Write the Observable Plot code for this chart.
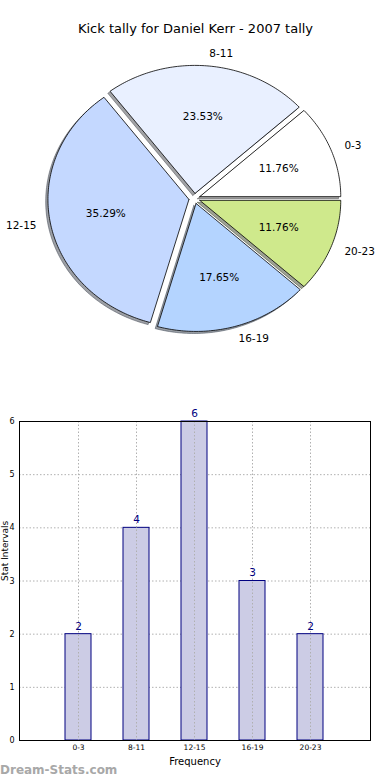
<!DOCTYPE html>
<html>
<head>
<meta charset="utf-8">
<script src="https://cdn.jsdelivr.net/npm/d3@7"></script>
<script src="https://cdn.jsdelivr.net/npm/@observablehq/plot@0.6"></script>
<style>
  html, body { margin: 0; padding: 0; background: #fff; }
  body { width: 390px; height: 780px; position: relative; overflow: hidden; font-family: "DejaVu Sans", sans-serif; }
  #pie, #bar { position: absolute; left: 0; }
  #pie { top: 0; }
  #bar { top: 390px; }
  svg { display: block; }
  #wm { position: absolute; left: 0; top: 763px; font-size: 12px; color: #a8a8a8; font-weight: bold; font-family: "DejaVu Sans", sans-serif; }
</style>
</head>
<body>
<div id="pie"></div>
<div id="bar"></div>
<div id="wm">Dream-Stats.com</div>
<script>
const titleText = "Kick tally for Daniel Kerr - 2007 tally";
const categories = ["0-3", "8-11", "12-15", "16-19", "20-23"];
const counts = [2, 4, 6, 3, 2];
const sliceColors = ["#ffffff", "#e9f0ff", "#c4d8ff", "#b4d4ff", "#cfe98c"];
const yTicks = [0, 1, 2, 3, 4, 5, 6];
const xLabel = "Frequency";
const yLabel = "Stat Intervals";

const explode = 0.04;
const total = d3.sum(counts);

let acc = 0;
const slices = categories.map((c, i) => {
  const a0 = acc / total * 2 * Math.PI;
  acc += counts[i];
  const a1 = acc / total * 2 * Math.PI;
  const mid = (a0 + a1) / 2;
  const cx = explode * Math.cos(mid), cy = explode * Math.sin(mid);
  const pts = [{x: cx, y: cy}];
  const n = Math.max(2, Math.ceil((a1 - a0) / (Math.PI / 180)));
  for (let k = 0; k <= n; k++) {
    const a = a0 + (a1 - a0) * k / n;
    pts.push({x: cx + Math.cos(a), y: cy + Math.sin(a)});
  }
  pts.push({x: cx, y: cy});
  return {cat: c, count: counts[i], color: sliceColors[i], mid, cx, cy, pts,
    pct: (100 * counts[i] / total).toFixed(2) + "%"};
});

function darken(col) {
  const c = d3.rgb(col);
  return d3.rgb(c.r * 0.3, c.g * 0.3, c.b * 0.3).formatHex();
}

const shadowOff = 0.016;
const pieMarks = [];
slices.forEach(s => {
  pieMarks.push(Plot.line(s.pts.map(p => ({x: p.x - shadowOff, y: p.y - shadowOff})), {
    x: "x", y: "y", fill: darken(s.color), fillOpacity: 0.5,
    stroke: darken(s.color), strokeOpacity: 0.5, strokeWidth: 1
  }));
});
slices.forEach(s => {
  pieMarks.push(Plot.line(s.pts, {x: "x", y: "y", fill: s.color, stroke: "#000", strokeWidth: 0.8}));
});
const labelPts = slices.map(s => ({
  x: s.cx + 1.1 * Math.cos(s.mid), y: s.cy + 1.1 * Math.sin(s.mid), text: s.cat
}));
const pctPts = slices.map(s => ({
  x: s.cx + 0.6 * Math.cos(s.mid), y: s.cy + 0.6 * Math.sin(s.mid), text: s.pct
}));
pieMarks.push(Plot.text(labelPts.filter(d => d.x >= 0), {x: "x", y: "y", text: "text", textAnchor: "start", fontSize: 10.5, fill: "#000"}));
pieMarks.push(Plot.text(labelPts.filter(d => d.x < 0), {x: "x", y: "y", text: "text", textAnchor: "end", fontSize: 10.5, fill: "#000"}));
pieMarks.push(Plot.text(pctPts, {x: "x", y: "y", text: "text", fontSize: 10.5, fill: "#000"}));
pieMarks.push(Plot.text([titleText], {frameAnchor: "top", dy: 23, fontSize: 13, fill: "#000"}));

const cxPx = 194, cyPx = 198, rx = 141, ry = 128, pieH = 390;
const pie = Plot.plot({
  width: 390, height: pieH,
  margin: 0,
  style: {fontFamily: "DejaVu Sans, sans-serif", background: "transparent"},
  x: {domain: [-cxPx / rx, (390 - cxPx) / rx], axis: null},
  y: {domain: [-(pieH - cyPx) / ry, cyPx / ry], axis: null},
  marks: pieMarks
});
document.getElementById("pie").appendChild(pie);

const barData = categories.map((c, i) => ({cat: c, count: counts[i]}));
const bar = Plot.plot({
  width: 390, height: 390,
  marginTop: 31, marginBottom: 40, marginLeft: 19, marginRight: 20,
  style: {fontFamily: "DejaVu Sans, sans-serif", background: "transparent"},
  x: {domain: categories, paddingInner: 0.55, paddingOuter: 0.775, axis: null},
  y: {domain: [0, 6], axis: null},
  marks: [
    Plot.gridY(yTicks.slice(1, -1), {stroke: "#b0b0b0", strokeOpacity: 1, strokeDasharray: "1.5,2"}),
    Plot.barY(barData, {x: "cat", y: "count", fill: "#ccccE5", stroke: "#000080", strokeWidth: 1, inset: 0}),
    Plot.gridX(categories, {stroke: "#b0b0b0", strokeOpacity: 1, strokeDasharray: "1.5,2"}),
    Plot.frame({stroke: "#000", strokeWidth: 1}),
    Plot.axisY(yTicks, {tickSize: 0, tickPadding: 5, fontSize: 8, label: null, tickFormat: d3.format("d")}),
    Plot.axisX(categories, {tickSize: 0, tickPadding: 4, fontSize: 7.5, label: null}),
    Plot.text(barData, {x: "cat", y: "count", text: d => String(d.count), dy: -8, fill: "#000080", fontSize: 10.5}),
    Plot.text([yLabel], {frameAnchor: "left", dx: -14, rotate: -90, fontSize: 9, fill: "#000"}),
    Plot.text([xLabel], {frameAnchor: "bottom", dy: 24, fontSize: 10, fill: "#000"})
  ]
});
document.getElementById("bar").appendChild(bar);
</script>
</body>
</html>
